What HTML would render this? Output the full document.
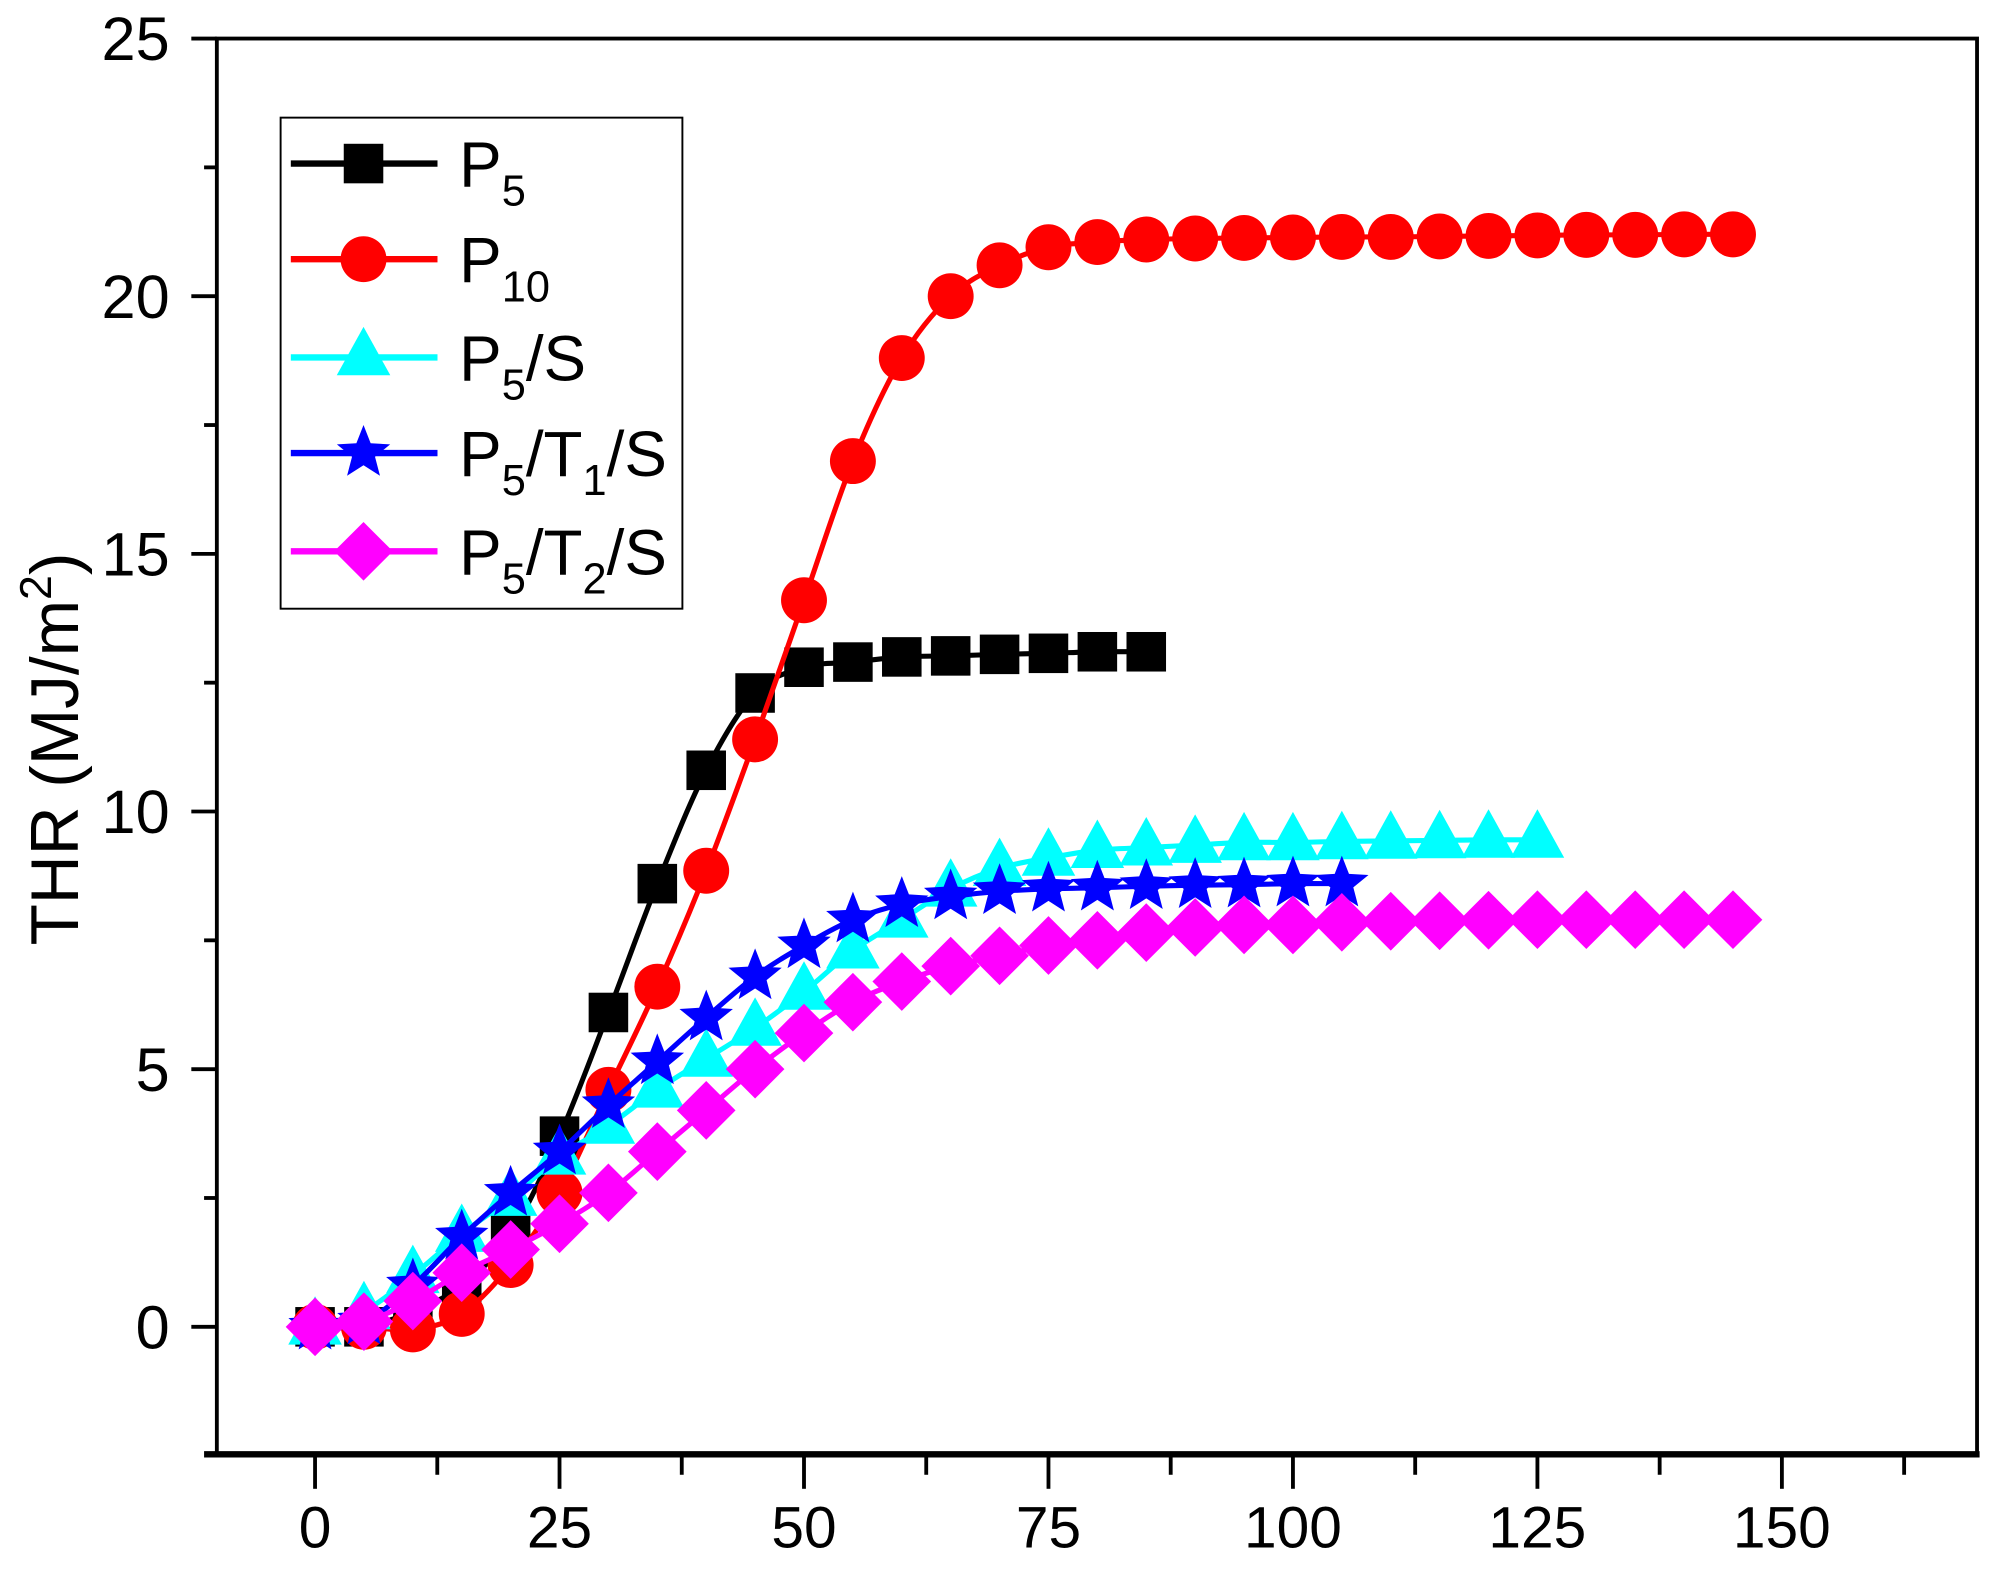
<!DOCTYPE html>
<html><head><meta charset="utf-8"><style>
html,body{margin:0;padding:0;background:#fff}
svg{display:block}
text{font-family:"Liberation Sans",Arial,sans-serif;fill:#000}
</style></head><body>
<svg id="s" width="2000" height="1572" viewBox="0 0 1568 1232" xmlns="http://www.w3.org/2000/svg">
<rect x="0" y="0" width="1568" height="1232" fill="#fff"/>
<g id="plot"></g>
<rect x="170" y="30" width="1380" height="1110" fill="none" stroke="#000" stroke-width="3"/>
<line x1="160" y1="1140" x2="1552" y2="1140" stroke="#000" stroke-width="5"/>
<g id="ticks" stroke="#000" stroke-width="3"></g>
<g font-size="48" text-anchor="end">
<text x="133" y="1057">0</text><text x="133" y="855">5</text><text x="133" y="653">10</text>
<text x="133" y="451">15</text><text x="133" y="249">20</text><text x="133" y="47">25</text>
</g>
<g font-size="46" text-anchor="middle">
<text x="247" y="1213">0</text><text x="438.7" y="1213">25</text><text x="630.3" y="1213">50</text>
<text x="822" y="1213">75</text><text x="1013.7" y="1213">100</text><text x="1205.3" y="1213">125</text><text x="1397" y="1213">150</text>
</g>
<text font-size="53" text-anchor="middle" transform="translate(61,587) rotate(-90)">THR (MJ/m<tspan dy="-21" font-size="35">2</tspan><tspan dy="21">)</tspan></text>
<rect x="220" y="92" width="315" height="385" fill="#fff" stroke="#000" stroke-width="1.5"/>
<g id="leg"></g>
<g font-size="50">
<text x="360" y="146">P<tspan font-size="34" dy="15">5</tspan></text>
<text x="360" y="221">P<tspan font-size="34" dy="15">10</tspan></text>
<text x="360" y="298">P<tspan font-size="34" dy="15">5</tspan><tspan dy="-15">/S</tspan></text>
<text x="360" y="373">P<tspan font-size="34" dy="15">5</tspan><tspan dy="-15">/T</tspan><tspan font-size="34" dy="15">1</tspan><tspan dy="-15">/S</tspan></text>
<text x="360" y="450">P<tspan font-size="34" dy="15">5</tspan><tspan dy="-15">/T</tspan><tspan font-size="34" dy="15">2</tspan><tspan dy="-15">/S</tspan></text>
</g>
</svg>
<script>
var NS="http://www.w3.org/2000/svg";
function X(v){return 247+v*7.6667}
function Y(v){return 1040-v*40.4}
function el(t,a,p){var e=document.createElementNS(NS,t);for(var k in a)e.setAttribute(k,a[k]);p.appendChild(e);return e}
var tk=document.getElementById('ticks');
for(var v=-2.5;v<=25;v+=2.5){if(v==-2.5)continue;var maj=(v%5==0);el('line',{x1:maj?150:160,x2:170,y1:Y(v),y2:Y(v)},tk)}
for(var v=0;v<=162.5;v+=12.5){var maj=(v%25==0);el('line',{x1:X(v),x2:X(v),y1:1140,y2:maj?1167:1156},tk)}
function path(pts){var d="M"+pts[0][0]+","+pts[0][1];for(var i=0;i<pts.length-1;i++){var p0=pts[i-1]||pts[i],p1=pts[i],p2=pts[i+1],p3=pts[i+2]||p2;var c1=[p1[0]+(p2[0]-p0[0])/6,p1[1]+(p2[1]-p0[1])/6],c2=[p2[0]-(p3[0]-p1[0])/6,p2[1]-(p3[1]-p1[1])/6];d+=" C"+c1+" "+c2+" "+p2}return d}
function marker(type,x,y,c,g){
 if(type=='sq')el('rect',{x:x-15.5,y:y-15.5,width:31,height:31,fill:c},g);
 else if(type=='ci')el('circle',{cx:x,cy:y,r:18,fill:c},g);
 else if(type=='tr')el('polygon',{points:(x)+","+(y-24)+" "+(x+21)+","+(y+14)+" "+(x-21)+","+(y+14),fill:c},g);
 else if(type=='di')el('polygon',{points:x+","+(y-23)+" "+(x+23)+","+y+" "+x+","+(y+23)+" "+(x-23)+","+y,fill:c},g);
 else if(type=='st'){var p=[];for(var i=0;i<10;i++){var r=i%2?9.5:22,a=-Math.PI/2+i*Math.PI/5;p.push((x+r*Math.cos(a)).toFixed(1)+","+(y+r*Math.sin(a)).toFixed(1))}el('polygon',{points:p.join(" "),fill:c},g)}
}
var S=[
 ['sq','#000',[0,0,0.3,0.8,1.8,3.7,6.1,8.6,10.8,12.3,12.8,12.9,13.0,13.02,13.05,13.07,13.1,13.1]],
 ['ci','#f00',[0,0,-0.05,0.25,1.2,2.6,4.6,6.6,8.85,11.4,14.1,16.8,18.8,20.0,20.6,20.95,21.05,21.1,21.12,21.13,21.14,21.15,21.15,21.16,21.17,21.18,21.19,21.19,21.2,21.2]],
 ['tr','#0ff',[0,0.3,1.0,1.8,2.5,3.3,3.9,4.6,5.2,5.8,6.5,7.3,7.9,8.5,8.9,9.1,9.25,9.3,9.35,9.4,9.4,9.42,9.43,9.44,9.45,9.45]],
 ['st','#00f',[0,0.1,0.8,1.75,2.6,3.4,4.3,5.15,6.0,6.8,7.4,7.9,8.2,8.35,8.45,8.5,8.52,8.55,8.57,8.58,8.6,8.6]],
 ['di','#f0f',[0,0.1,0.5,1.05,1.5,2.0,2.6,3.4,4.2,5.0,5.7,6.3,6.7,7.0,7.2,7.4,7.5,7.65,7.75,7.8,7.8,7.85,7.87,7.88,7.89,7.9,7.9,7.9,7.9,7.9]]
];
var pg=document.getElementById('plot');
S.forEach(function(s){var pts=s[2].map(function(v,i){return [X(i*5),Y(v)]});
 var g=el('g',{},pg);el('path',{d:path(pts),fill:'none',stroke:s[1],'stroke-width':4},g);
 pts.forEach(function(p){marker(s[0],p[0],p[1],s[1],g)})});
var lg=document.getElementById('leg');var ly=[128,203,280,355,432];
S.forEach(function(s,i){el('line',{x1:228,x2:343,y1:ly[i],y2:ly[i],stroke:s[1],'stroke-width':5},lg);marker(s[0],285,ly[i],s[1],lg)});
</script>
</body></html>
